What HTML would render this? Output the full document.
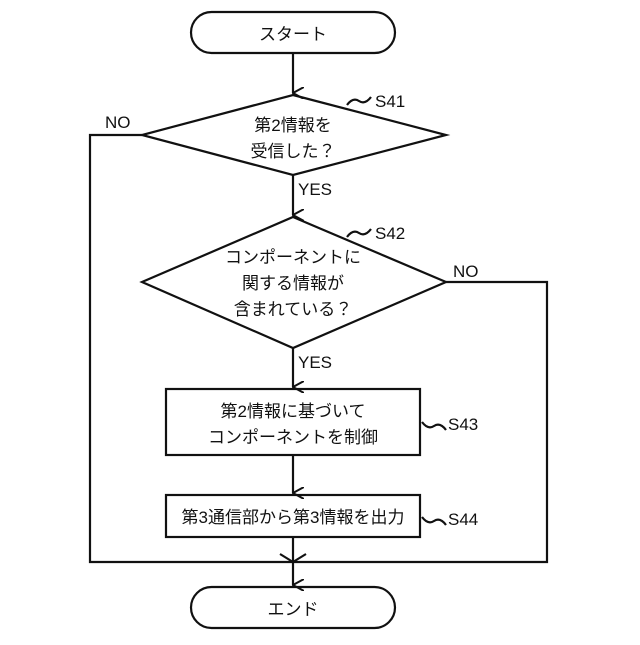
<!DOCTYPE html>
<html><head><meta charset="utf-8"><style>
body{margin:0;background:#fff}
svg text{font-family:"Liberation Sans","Noto Sans CJK JP",sans-serif;fill:#111}
</style></head><body>
<svg width="640" height="640" viewBox="0 0 640 640" xmlns="http://www.w3.org/2000/svg">
<defs><marker id="a" markerWidth="12" markerHeight="12" refX="6" refY="11" orient="auto" markerUnits="userSpaceOnUse"><path d="M0,0 L6,11 L12,0" fill="none" stroke="#111" stroke-width="2"/></marker></defs>
<g fill="none" stroke="#111" stroke-width="2.2">
<rect x="191" y="12" width="204" height="41" rx="20.5"/>
<rect x="191" y="587" width="204" height="41" rx="20.5"/>
<polygon points="293,95 446,135 293,175 142,135"/>
<polygon points="293,217 446,282 293,348 142,282"/>
<rect x="166" y="389" width="254" height="66"/>
<rect x="166" y="495" width="254" height="42"/>
<line x1="293" y1="53" x2="293" y2="93" marker-end="url(#a)"/>
<line x1="293" y1="175" x2="293" y2="215" marker-end="url(#a)"/>
<line x1="293" y1="348" x2="293" y2="387" marker-end="url(#a)"/>
<line x1="293" y1="455" x2="293" y2="493" marker-end="url(#a)"/>
<line x1="293" y1="537" x2="293" y2="585" marker-end="url(#a)"/>
<polyline points="142,135 90,135 90,562 547,562 547,282 446,282"/>
<path d="M280,554 L293,562 L306,554" />
<path d="M347,105 q6,-8 12,-4 t12,-4"/>
<path d="M347,237 q6,-8 12,-4 t12,-4"/>
<path d="M422,422 q6,8 12,4 t12,4"/>
<path d="M422,517 q6,8 12,4 t12,4"/>
</g>
<g font-size="17">
<text x="293" y="40" text-anchor="middle">スタート</text>
<text x="293" y="615" text-anchor="middle">エンド</text>
<text x="293" y="131" text-anchor="middle">第2情報を</text>
<text x="293" y="157" text-anchor="middle">受信した？</text>
<text x="293" y="263" text-anchor="middle">コンポーネントに</text>
<text x="293" y="289" text-anchor="middle">関する情報が</text>
<text x="293" y="315" text-anchor="middle">含まれている？</text>
<text x="293" y="417" text-anchor="middle">第2情報に基づいて</text>
<text x="293" y="443" text-anchor="middle">コンポーネントを制御</text>
<text x="293" y="523" text-anchor="middle">第3通信部から第3情報を出力</text>
<text x="375" y="107">S41</text>
<text x="375" y="239">S42</text>
<text x="448" y="430">S43</text>
<text x="448" y="525">S44</text>
<text x="105" y="128">NO</text>
<text x="453" y="277">NO</text>
<text x="298" y="195">YES</text>
<text x="298" y="368">YES</text>
</g>
</svg>
</body></html>
